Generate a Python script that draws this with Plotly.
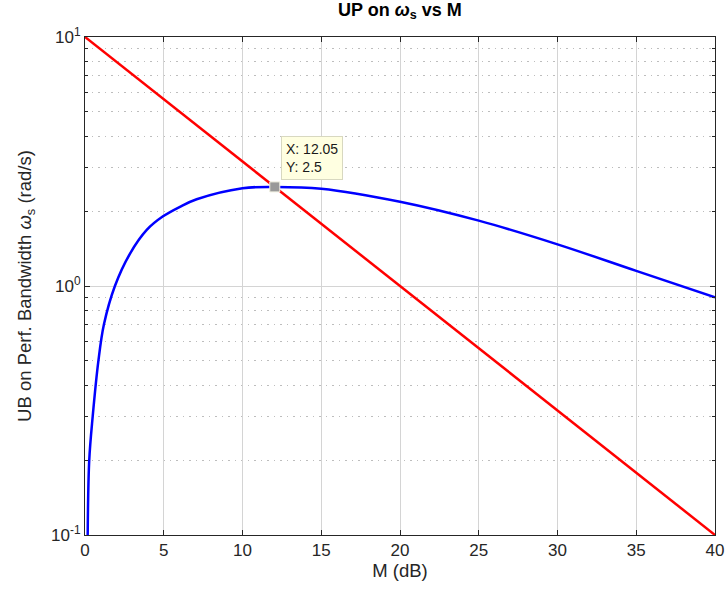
import math
import plotly.graph_objects as go

# Blue curve: UB on performance bandwidth vs M (dB)
m_blue = [0.17, 0.27, 0.49, 0.85, 1.2, 1.9, 2.86, 3.92, 4.93, 6.03, 7.09, 10.0, 12.05, 15.0, 20.0, 25.0, 30.0, 35.0, 40.0]
w_blue = [0.10, 0.20, 0.30, 0.50, 0.70, 1.00, 1.35, 1.68, 1.90, 2.08, 2.23, 2.47, 2.50, 2.46, 2.18, 1.83, 1.47, 1.15, 0.90]

# Red line
m_red = [0.0, 20.0, 40.0]
w_red = [10.0, 1.0, 0.1]

# Data tip
tip_x = 12.05
tip_y = 2.5

x_ticks = [0, 5, 10, 15, 20, 25, 30, 35, 40]
y_ticks = [0.1, 1, 10]
y_ticktext = ["10<sup>-1</sup>", "10<sup>0</sup>", "10<sup>1</sup>"]
y_minor = [k * 10.0 ** e for e in (-1, 0) for k in range(2, 10)]

axis_col = "#262626"
grid_col = "#d4d4d4"
FONT = "Liberation Sans, Arial, sans-serif"

fig = go.Figure()
fig.add_trace(go.Scatter(x=m_blue, y=w_blue, mode="lines",
                         line=dict(color="#0000ff", width=2.5, shape="spline", smoothing=1.0),
                         showlegend=False))
fig.add_trace(go.Scatter(x=m_red, y=w_red, mode="lines",
                         line=dict(color="#ff0000", width=2.5),
                         showlegend=False))
fig.add_trace(go.Scatter(x=[tip_x], y=[tip_y], mode="markers",
                         marker=dict(symbol="square", size=10, color="#999999",
                                     line=dict(color="#f0f0e0", width=1)),
                         showlegend=False))

fig.add_annotation(x=tip_x, y=math.log10(tip_y), yref="y", xref="x",
                   text=f"X: {tip_x}<br>Y: {tip_y}", showarrow=False,
                   xanchor="left", yanchor="bottom", xshift=6, yshift=7,
                   align="left", bgcolor="#ffffe1", bordercolor="#d8d8c0",
                   borderwidth=1, borderpad=4,
                   font=dict(family=FONT, size=14, color="#1a1a1a"))

fig.update_layout(
    width=727, height=594,
    margin=dict(l=85, r=12, t=37, b=59),
    paper_bgcolor="white", plot_bgcolor="white",
    font=dict(family=FONT, size=17, color=axis_col),
    title=dict(text="<b>UP on <i>ω</i><sub>s</sub> vs M</b>", x=0.5502, xanchor="center",
               y=0.995, yanchor="top", font=dict(size=18, color="#000000")),
    xaxis=dict(range=[0, 40], tickvals=x_ticks, showgrid=True, gridcolor=grid_col, gridwidth=1,
               zeroline=False, showline=True, linecolor=axis_col, linewidth=1, mirror="ticks",
               ticks="inside", ticklen=5, tickcolor=axis_col, automargin=False,
               tickfont=dict(size=17),
               title=dict(text="M (dB)", standoff=3, font=dict(size=18.5))),
    yaxis=dict(type="log", range=[-1, 1], tickvals=y_ticks, ticktext=y_ticktext,
               showgrid=True, gridcolor=grid_col, gridwidth=1,
               zeroline=False, showline=True, linecolor=axis_col, linewidth=1, mirror="ticks",
               ticks="inside", ticklen=5, tickcolor=axis_col, automargin=False,
               tickfont=dict(size=17),
               minor=dict(tickvals=y_minor, showgrid=True, gridcolor="#bdbdbd", griddash="1.5px,5px",
                          ticks="inside", ticklen=3, tickcolor=axis_col),
               title=dict(text="UB on Perf. Bandwidth <i>ω</i><sub>s</sub> (rad/s)", standoff=14,
                          font=dict(size=18.5))),
)

fig.write_html("out.html")
